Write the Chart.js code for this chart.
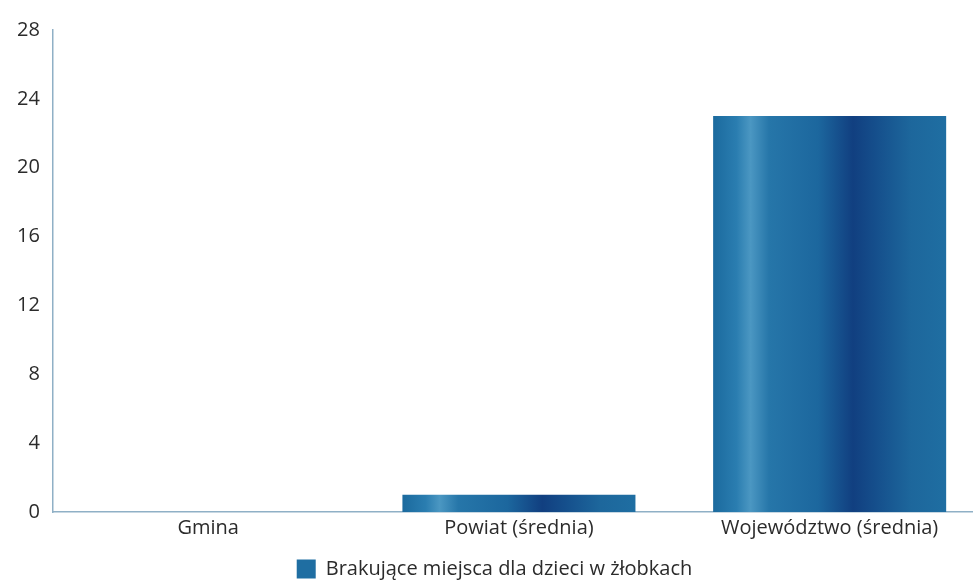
<!DOCTYPE html>
<html lang="pl">
<head>
<meta charset="utf-8">
<script src="https://cdn.jsdelivr.net/npm/chart.js@4/dist/chart.umd.min.js"></script>
<style>
  html, body { margin: 0; padding: 0; background: #fff; overflow: hidden; }
  #wrap { width: 1000px; height: 583px; position: relative; }
</style>
</head>
<body>
<div id="wrap"><canvas id="chart"></canvas></div>
<script>
// Data
const categories = ['Gmina', 'Powiat (średnia)', 'Województwo (średnia)'];
const missingPlaces = [0, 1, 23];
const seriesLabel = 'Brakujące miejsca dla dzieci w żłobkach';
const yTicks = [0, 4, 8, 12, 16, 20, 24, 28];

const axisColor = '#8fb0c6';
const textColor = '#2b2b2b';
const labelFont = { family: 'Open Sans', size: 20 };

// vertical stripes like the printed bars
function barGradient(ctx) {
  const chart = ctx.chart;
  const xScale = chart.scales.x;
  if (!chart.chartArea || !xScale || ctx.type !== 'data') return '#1f6ea2';
  const center = xScale.getPixelForValue(ctx.dataIndex);
  const w = (xScale.width / categories.length) * 0.75;
  const g = chart.ctx.createLinearGradient(center - w / 2, 0, center + w / 2, 0);
  g.addColorStop(0, '#1b6a9e');
  g.addColorStop(0.1, '#2a7db0');
  g.addColorStop(0.16, '#4b97c2');
  g.addColorStop(0.24, '#2676a9');
  g.addColorStop(0.45, '#1c679e');
  g.addColorStop(0.6, '#113f80');
  g.addColorStop(0.7, '#154f8c');
  g.addColorStop(0.85, '#1d679c');
  g.addColorStop(1, '#1f6ea2');
  return g;
}

new Chart(document.getElementById('chart'), {
  type: 'bar',
  data: {
    labels: categories,
    datasets: [{
      label: seriesLabel,
      data: missingPlaces,
      backgroundColor: barGradient,
      borderWidth: 0,
      categoryPercentage: 1,
      barPercentage: 0.75
    }]
  },
  options: {
    responsive: true,
    maintainAspectRatio: false,
    animation: false,
    layout: {
      padding: { top: 30, left: 4, right: 15, bottom: -6 }
    },
    plugins: {
      legend: {
        position: 'bottom',
        labels: {
          boxWidth: 19,
          boxHeight: 19,
          padding: 5,
          color: textColor,
          font: labelFont,
          generateLabels: function(chart) {
            return [{
              text: seriesLabel,
              fillStyle: '#1f6ea2',
              strokeStyle: '#1f6ea2',
              lineWidth: 0,
              datasetIndex: 0,
              fontColor: textColor
            }];
          }
        }
      },
      tooltip: { enabled: false }
    },
    scales: {
      y: {
        min: 0,
        max: 28,
        afterBuildTicks: function(scale) {
          scale.ticks = yTicks.map(v => ({ value: v }));
        },
        grid: { display: false, drawTicks: false },
        border: { display: true, color: axisColor, width: 1.5 },
        ticks: {
          padding: 13,
          color: textColor,
          font: labelFont
        }
      },
      x: {
        afterFit: function(scale) {
          scale.height += 10;
        },
        grid: { display: false, drawTicks: false },
        border: { display: true, color: axisColor, width: 1.5 },
        ticks: {
          padding: 4,
          color: textColor,
          font: labelFont
        }
      }
    }
  }
});
</script>
</body>
</html>
